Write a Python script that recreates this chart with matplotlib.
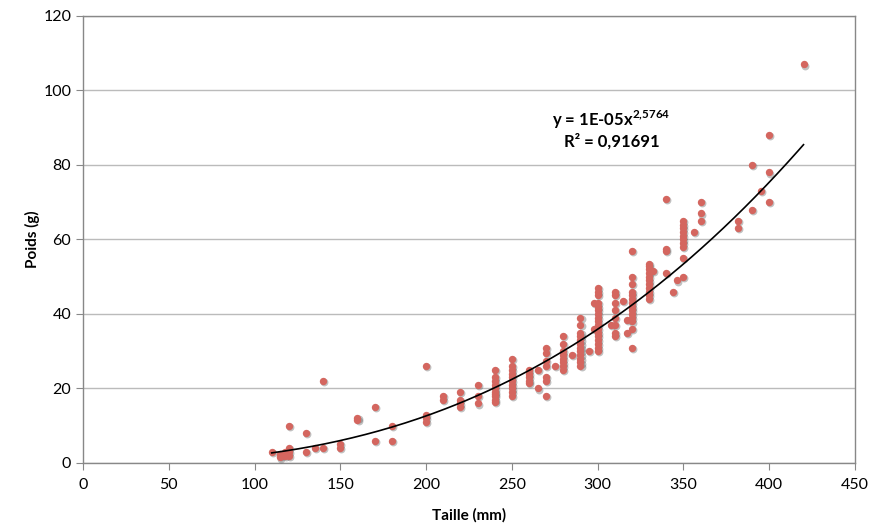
import numpy as np
import matplotlib
matplotlib.use("Agg")
import matplotlib.pyplot as plt

# taille (mm) / poids (g), grouped by length
taille = [110, 115, 115, 115, 118, 118, 120, 120, 120, 120,
          130, 130, 135, 140, 140, 150, 150, 160, 160, 170, 170, 180, 180,
          200, 200, 200, 200, 210, 210, 220, 220, 220, 220, 230, 230, 230,
          240, 240, 240, 240, 240, 240, 240, 240, 240, 240,
          250, 250, 250, 250, 250, 250, 250, 250, 250, 250,
          260, 260, 260, 260, 260, 265, 265,
          270, 270, 270, 270, 270, 270, 270, 275,
          280, 280, 280, 280, 280, 280, 280, 280, 285,
          290, 290, 290, 290, 290, 290, 290, 290, 290, 290, 290, 290, 295, 298, 298,
          300, 300, 300, 300, 300, 300, 300, 300, 300, 300, 300, 300, 300, 300, 300, 300, 300,
          308, 310, 310, 310, 310, 310, 310, 310, 310, 315, 317, 317,
          320, 320, 320, 320, 320, 320, 320, 320, 320, 320, 320, 320, 320, 320,
          330, 330, 330, 330, 330, 330, 330, 330, 330, 330, 330, 332,
          340, 340, 340, 340, 344, 346,
          350, 350, 350, 350, 350, 350, 350, 350, 350, 350, 356,
          360, 360, 360, 382, 382, 390, 390, 395, 400, 400, 400, 420]
poids = [3, 2, 1.5, 2.5, 2, 3, 3, 4, 10, 2,
         8, 3, 4, 22, 4, 5, 4, 12, 11.5, 15, 6, 6, 10,
         26, 13, 12, 11, 18, 17, 19, 17, 16, 15, 21, 18, 16,
         25, 23, 22, 21, 20, 19, 18.5, 18, 17, 16.5,
         28, 26, 25, 24, 23, 22, 21, 20, 19, 18,
         25, 24, 23, 22, 21.5, 25, 20,
         31, 29.5, 27.5, 26, 23, 22, 18, 26,
         34, 32, 30, 29, 28, 27, 26, 25, 29,
         39, 37, 35, 34, 33, 32, 31, 30, 29, 28, 27, 26, 30, 43, 36,
         47, 46, 45, 43, 42, 41, 40, 39, 38, 37, 36, 35, 34, 33, 32, 31, 30,
         37, 46, 45, 43, 41, 39, 37, 35, 34, 43.5, 38.5, 35,
         57, 50, 48, 46, 45, 44, 43, 42, 41, 40, 39, 38, 36, 31,
         53.5, 53, 52, 51, 50, 49, 48, 47, 46, 45, 44, 51.5,
         71, 57.5, 57, 51, 46, 49,
         65, 64, 63, 62, 61, 60, 59, 58, 55, 50, 62,
         70, 67, 65, 65, 63, 80, 68, 73, 88, 78, 70, 107]

# power trendline y = a * x^b
trend_a = 1.49e-5
trend_b = 2.5764
r2 = 0.91691

x_ticks = [0, 50, 100, 150, 200, 250, 300, 350, 400, 450]
y_ticks = [0, 20, 40, 60, 80, 100, 120]

plt.rcParams['font.family'] = ['Lato', 'DejaVu Sans']
plt.rcParams['mathtext.fontset'] = 'custom'
plt.rcParams['mathtext.bf'] = 'Lato:bold'
plt.rcParams['mathtext.rm'] = 'Lato'

fig = plt.figure(figsize=(8.71, 5.26), dpi=100)
ax = fig.add_axes([0.0953, 0.1198, 0.8863, 0.8498])

x = np.array(taille, dtype=float)
y = np.array(poids, dtype=float)

# soft drop shadow under the markers
ax.scatter(x + 0.6, y - 0.3, s=32, color='#666666', alpha=0.4, linewidths=0, zorder=3)
ax.scatter(x, y, s=28, color='#D4665F', linewidths=0, zorder=4)

xs = np.linspace(x.min(), x.max(), 200)
ax.plot(xs, trend_a * xs ** trend_b, color='black', lw=1.2, zorder=5)

exp_txt = '{:.4f}'.format(trend_b).replace('.', '{,}')
ax.text(308, 92, 'y = {:.0E}x$^{{\\mathbf{{{}}}}}$'.format(trend_a, exp_txt),
        ha='center', va='center', fontsize=12, fontweight='bold')
ax.text(308, 86.5, 'R² = {}'.format(str(r2).replace('.', ',')),
        ha='center', va='center', fontsize=12, fontweight='bold')

ax.set_xlim(0, 450)
ax.set_ylim(0, 120)
ax.set_xticks(x_ticks)
ax.set_yticks(y_ticks)
ax.tick_params(axis='both', labelsize=11.5, color='#888888', length=5, direction='out')
ax.tick_params(axis='x', pad=6)
ax.grid(axis='y', color='#BBBBBB', lw=1)
ax.set_axisbelow(True)
for sp in ax.spines.values():
    sp.set_color('#888888')
    sp.set_linewidth(1)

ax.set_xlabel('Taille (mm)', fontsize=11, fontweight='bold')
ax.set_ylabel('Poids (g)', fontsize=11, fontweight='bold')
ax.xaxis.set_label_coords(0.5, -0.1)
ax.yaxis.set_label_coords(-0.056, 0.5)

fig.savefig('out.png', dpi=100)
